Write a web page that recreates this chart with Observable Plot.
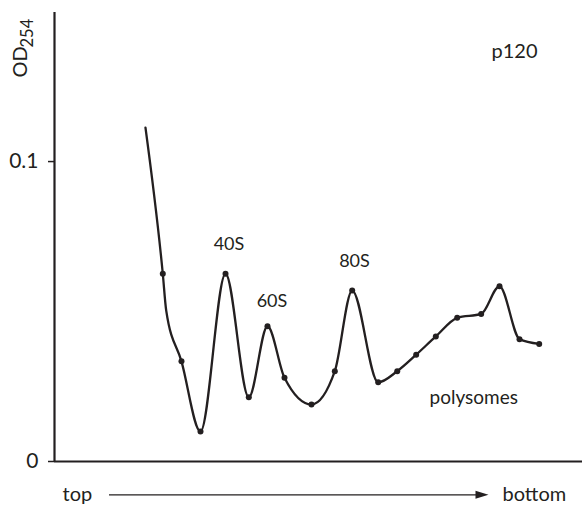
<!DOCTYPE html>
<html>
<head>
<meta charset="utf-8">
<script src="https://cdn.jsdelivr.net/npm/d3@7"></script>
<script src="https://cdn.jsdelivr.net/npm/@observablehq/plot@0.6"></script>
<style>
  html, body { margin: 0; padding: 0; background: #fff; }
  #chart svg { display: block; }
</style>
</head>
<body>
<div id="chart"></div>
<script>
// Gradient position (0 = top, 100 = bottom), arbitrary units
const position = [17.23, 20.51, 21.16, 24.05, 27.65, 32.39, 36.80, 40.34, 43.56, 48.67, 53.09, 56.38, 61.31, 64.91, 68.50, 72.22, 76.27, 80.81, 84.28, 88.07, 91.80];
// Absorbance OD254
const od254 = [0.1113, 0.0626, 0.0503, 0.0334, 0.0100, 0.0626, 0.0214, 0.0451, 0.0279, 0.0190, 0.0301, 0.0570, 0.0264, 0.0301, 0.0356, 0.0417, 0.0479, 0.0492, 0.0584, 0.0408, 0.0392];
// Whether a fraction dot is drawn at the point
const marked = [false, true, false, true, true, true, true, true, true, true, true, true, true, true, true, true, true, true, true, true, true];

// Peak annotations
const peakLabels = ["40S", "60S", "80S"];
const peakX = [33.05, 41.19, 56.82];
const peakY = [0.0723, 0.0534, 0.0669];

const yTicks = [0, 0.1];
const yTickLabels = ["0", "0.1"];

const ink = "#231f20";
const font = "Lato, 'Open Sans', sans-serif";

const data = position.map((x, i) => ({x, y: od254[i], marked: marked[i]}));
const peaks = peakLabels.map((t, i) => ({t, x: peakX[i], y: peakY[i]}));

const arrowHead = {
  draw(context, size) {
    const r = Math.sqrt(size / Math.PI);
    context.moveTo(r, 0);
    context.lineTo(-r, -r * 0.62);
    context.lineTo(-r, r * 0.62);
    context.closePath();
  }
};

const chart = Plot.plot({
  width: 582,
  height: 514,
  marginLeft: 54,
  marginRight: 0,
  marginTop: 12,
  marginBottom: 53,
  style: {fontFamily: font, color: ink, background: "#fff"},
  x: {domain: [0, 100], axis: null},
  y: {domain: [0, 0.1497], axis: null},
  marks: [
    Plot.axisY({
      ticks: yTicks,
      tickFormat: (d) => yTickLabels[yTicks.indexOf(d)],
      tickSize: 6,
      tickPadding: 10,
      fontSize: 21,
      strokeWidth: 1.5,
      label: null
    }),
    Plot.ruleX([0], {stroke: ink, strokeWidth: 2.2}),
    Plot.ruleY([0], {stroke: ink, strokeWidth: 2.2}),
    Plot.line(data, {x: "x", y: "y", curve: "monotone-x", stroke: ink, strokeWidth: 2.3}),
    Plot.dot(data.filter(d => d.marked), {x: "x", y: "y", r: 3, fill: ink, stroke: null}),
    Plot.text(peaks, {x: "x", y: "y", text: "t", fontSize: 18, fill: ink, textAnchor: "middle", lineAnchor: "middle"}),
    Plot.text(["polysomes"], {x: 71.02, y: 0.0213, text: d => d, fontSize: 19, fill: ink, textAnchor: "start", lineAnchor: "middle"}),
    Plot.text(["p120"], {x: 82.77, y: 0.1367, text: d => d, fontSize: 20, fill: ink, textAnchor: "start", lineAnchor: "middle"}),
    // y-axis title OD254 with subscript
    Plot.text(["OD"], {frameAnchor: "top-left", text: d => d, rotate: -90, textAnchor: "start", lineAnchor: "bottom", dx: -28, dy: 65, fontSize: 20, fill: ink}),
    Plot.text(["254"], {frameAnchor: "top-left", text: d => d, rotate: -90, textAnchor: "start", lineAnchor: "bottom", dx: -21.3, dy: 35, fontSize: 16.5, fill: ink}),
    // gradient direction
    Plot.text(["top"], {x: 1.52, y: -0.0111, text: d => d, fontSize: 20, fill: ink, textAnchor: "start", lineAnchor: "middle"}),
    Plot.text(["bottom"], {x: 84.85, y: -0.0111, text: d => d, fontSize: 20, fill: ink, textAnchor: "start", lineAnchor: "middle"}),
    Plot.ruleY([-0.0111], {x1: 10.42, x2: 80.97, stroke: ink, strokeWidth: 1.2}),
    Plot.dot([-0.0111], {x: 80.97, y: d => d, symbol: arrowHead, r: 6.5, fill: ink, stroke: null})
  ]
});

document.getElementById("chart").appendChild(chart);
</script>
</body>
</html>
